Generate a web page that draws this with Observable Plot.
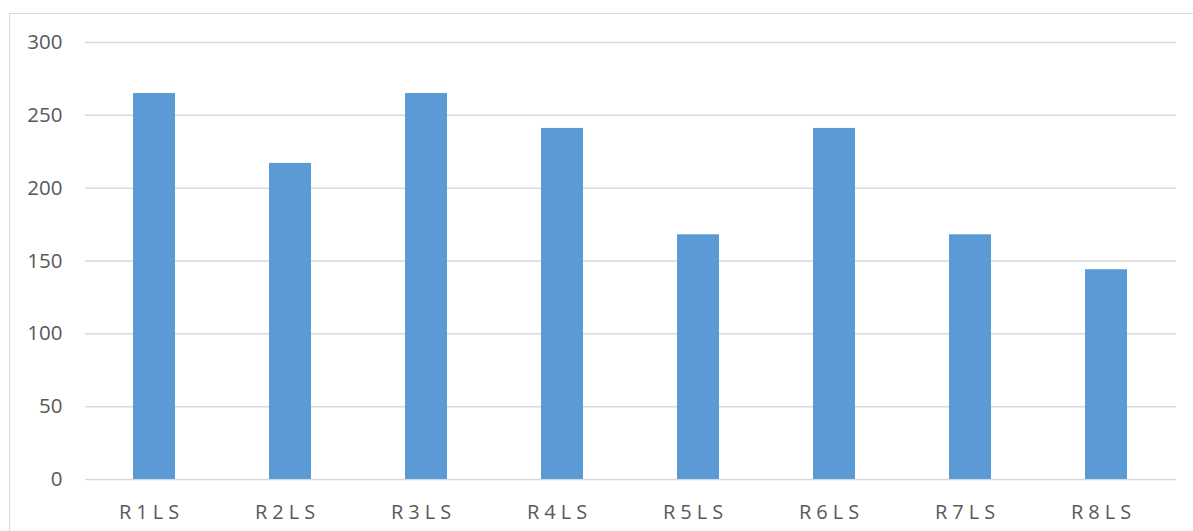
<!DOCTYPE html>
<html>
<head>
<meta charset="utf-8">
<script src="https://cdn.jsdelivr.net/npm/d3@7"></script>
<script src="https://cdn.jsdelivr.net/npm/@observablehq/plot@0.6"></script>
<style>
  html, body { margin: 0; padding: 0; background: #fff; overflow: hidden; }
  #wrap { position: relative; width: 1193px; height: 531px; }
  #frame { position: absolute; left: 9px; top: 13px; width: 1300px; height: 600px; border: 1px solid #d9d9d9; box-sizing: border-box; pointer-events: none; }
  #chart { position: absolute; left: 0; top: 0; }
</style>
</head>
<body>
<div id="wrap"><div id="frame"></div><div id="chart"></div></div>
<script>
const categories = ["R1LS", "R2LS", "R3LS", "R4LS", "R5LS", "R6LS", "R7LS", "R8LS"];
const values = [265, 217, 265, 241, 168, 241, 168, 144];
const yTicks = [0, 50, 100, 150, 200, 250, 300];

const data = categories.map((c, i) => ({category: c, value: values[i]}));

const chart = Plot.plot({
  width: 1193,
  height: 531,
  marginLeft: 85,
  marginRight: 17,
  marginTop: 42,
  marginBottom: 52,
  style: {fontFamily: "'Open Sans', sans-serif", fontSize: "20.5px", color: "#595959", background: "transparent"},
  x: {domain: categories, paddingInner: 0.69, paddingOuter: 0.345, label: null},
  y: {domain: [0, 300], ticks: yTicks, label: null},
  marks: [
    Plot.ruleY(yTicks, {stroke: "#d9d9d9", strokeWidth: 1.5}),
    Plot.barY(data, {x: "category", y: "value", fill: "#5b9bd5"}),
    Plot.axisY({ticks: yTicks, tickSize: 0, tickPadding: 23, fill: "#595959", fontSize: 20.5}),
    Plot.axisX({tickSize: 0, tickPadding: 25, fill: "#595959", fontSize: 20})
  ]
});
d3.select(chart).selectAll('g[aria-label="x-axis tick label"] text').style("letter-spacing", "5px").attr("dx", "-3px");
document.getElementById("chart").appendChild(chart);
</script>
</body>
</html>
